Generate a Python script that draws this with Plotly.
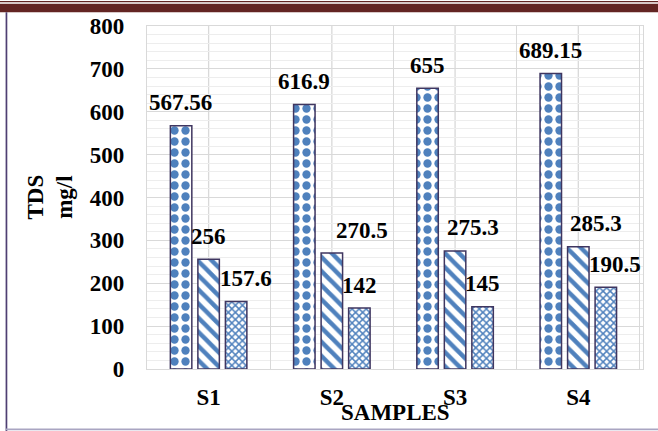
import plotly.graph_objects as go

# ---- data -------------------------------------------------------------
samples = ["S1", "S2", "S3", "S4"]
tds_a = [567.56, 616.9, 655, 689.15]
tds_b = [256, 270.5, 275.3, 285.3]
tds_c = [157.6, 142, 145, 190.5]
y_tick_values = [0, 100, 200, 300, 400, 500, 600, 700, 800]

# ---- layout constants ---------------------------------------------------
W, H = 658, 431
ML, MR, MT, MB = 147, 15, 26, 62
BARGAP = 0.33
GROUPGAP = 0.22
SERIF = "Liberation Serif, Times New Roman, Times, serif"
BLUE = "#4F81BD"
EDGE = "#3F3660"
GRID_MAJOR = "#D9D9D9"
GRID_MINOR = "#EDEDED"

plot_w = W - ML - MR
plot_h = H - MT - MB


def px_x(x):
    """pixel column -> paper x"""
    return (x - ML) / plot_w


def px_y(y):
    """pixel row -> paper y"""
    return (H - MB - y) / plot_h


series = [
    (tds_a, dict(shape=".", size=11, solidity=0.45)),
    (tds_b, dict(shape="\\", size=10, solidity=0.45)),
    (tds_c, dict(shape="x", size=5, solidity=0.5)),
]
# extra horizontal nudge (px) for some value labels
label_nudge = [
    [0, 0, 0, 0],
    [0, 30, 18, 18],
    [10, 0, 0, 9],
]

fig = go.Figure()
for vals, pat in series:
    fig.add_trace(go.Bar(
        x=samples, y=vals,
        marker=dict(
            color=BLUE,
            line=dict(color=EDGE, width=1.5),
            pattern=dict(fgcolor=BLUE, bgcolor="white", fillmode="replace", **pat),
        ),
        hoverinfo="x+y",
    ))

bold = dict(family=SERIF, size=23, color="black", weight="bold")

# value labels above each bar
cat_w = plot_w / len(samples)
slot = cat_w * (1 - BARGAP) / len(series)
annotations = []
for si, (vals, _) in enumerate(series):
    offset = (si - (len(series) - 1) / 2) * slot
    for ci, v in enumerate(vals):
        annotations.append(dict(
            x=samples[ci], y=v, xref="x", yref="y",
            text=f"{v:g}", showarrow=False,
            xanchor="center", yanchor="middle",
            xshift=offset + label_nudge[si][ci], yshift=23,
            font=bold,
        ))

# axis titles
annotations.append(dict(
    x=px_x(50), y=0.5, xref="paper", yref="paper",
    text="TDS<br>mg/l", textangle=-90, showarrow=False,
    xanchor="center", yanchor="middle", font=bold,
))
annotations.append(dict(
    x=0.5, y=px_y(413), xref="paper", yref="paper",
    text="SAMPLES", showarrow=False,
    xanchor="center", yanchor="middle", font=bold,
))

shapes = []
# vertical grid lines through the middle of each sample group
for s in samples:
    shapes.append(dict(type="line", xref="x", yref="paper", x0=s, x1=s, y0=0, y1=1,
                       line=dict(color=GRID_MAJOR, width=1.3), layer="below"))
# page frame: dark red rules on top, purple rule on the left, grey rule at the bottom
shapes += [
    dict(type="rect", xref="paper", yref="paper", x0=px_x(0), x1=px_x(W),
         y0=px_y(2.3), y1=px_y(1), fillcolor="#632523", line=dict(width=0)),
    dict(type="rect", xref="paper", yref="paper", x0=px_x(0), x1=px_x(W),
         y0=px_y(12.3), y1=px_y(3.8), fillcolor="#632523", line=dict(width=0)),
    dict(type="rect", xref="paper", yref="paper", x0=px_x(5.6), x1=px_x(7.3),
         y0=px_y(H), y1=px_y(12.3), fillcolor="#4E3F72", line=dict(width=0)),
    dict(type="rect", xref="paper", yref="paper", x0=px_x(6), x1=px_x(W),
         y0=px_y(430.2), y1=px_y(428.6), fillcolor="#A9A5C2", line=dict(width=0)),
]

fig.update_layout(
    width=W, height=H,
    margin=dict(l=ML, r=MR, t=MT, b=MB, pad=0),
    paper_bgcolor="white", plot_bgcolor="white",
    barmode="group", bargap=BARGAP, bargroupgap=GROUPGAP,
    showlegend=False,
    annotations=annotations,
    shapes=shapes,
    xaxis=dict(
        type="category", tickson="boundaries",
        showgrid=True, gridcolor=GRID_MAJOR, gridwidth=1.3,
        showline=True, linecolor=GRID_MAJOR, linewidth=1.3, mirror=True,
        ticks="", tickfont=bold, ticklabelstandoff=7,
        zeroline=False,
    ),
    yaxis=dict(
        range=[0, 800], tickvals=y_tick_values,
        showgrid=True, gridcolor=GRID_MAJOR, gridwidth=1.3,
        minor=dict(dtick=20, showgrid=True, gridcolor=GRID_MINOR, gridwidth=1),
        showline=True, linecolor=GRID_MAJOR, linewidth=1.3, mirror=True,
        ticks="", tickfont=bold, ticklabelstandoff=17,
        zeroline=False,
    ),
)

fig.write_html("out.html")
